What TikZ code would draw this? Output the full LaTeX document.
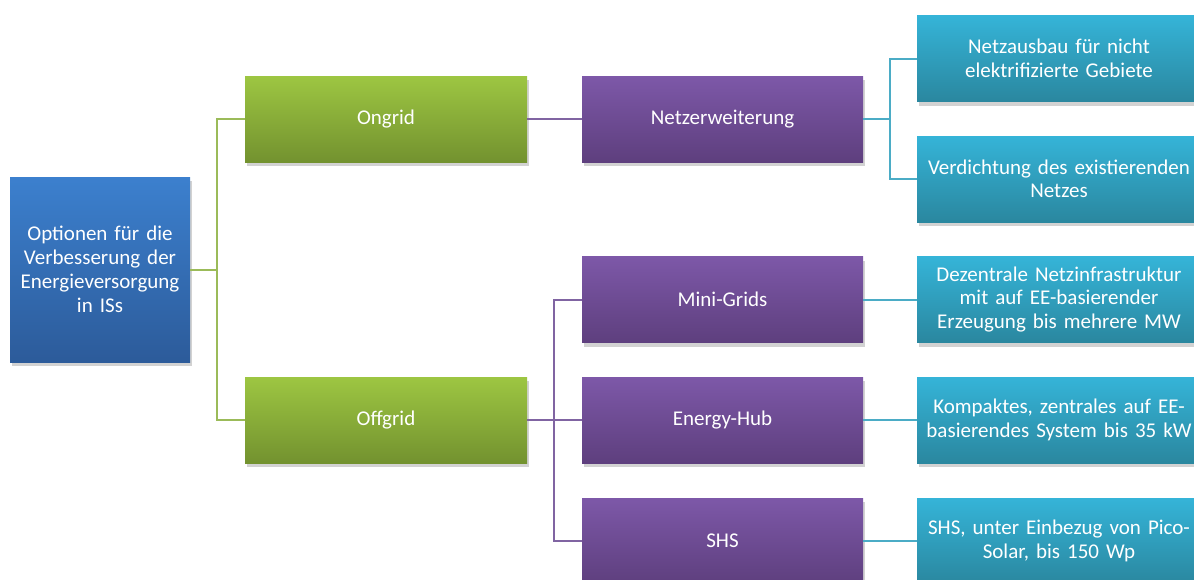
\documentclass[tikz,border=0pt]{standalone}
\usepackage{fontspec}
\setmainfont{Carlito}
\usetikzlibrary{shadows}
\definecolor{blueT}{HTML}{3C80CE}
\definecolor{blueB}{HTML}{2C5B9A}
\definecolor{greenT}{HTML}{9DC642}
\definecolor{greenB}{HTML}{73922F}
\definecolor{purpT}{HTML}{7D58A8}
\definecolor{purpB}{HTML}{5E3F7E}
\definecolor{cyanT}{HTML}{35B4D8}
\definecolor{cyanB}{HTML}{2A879F}
\definecolor{gline}{HTML}{9BBB59}
\definecolor{pline}{HTML}{8064A2}
\definecolor{cline}{HTML}{4BACC6}
\tikzset{
  box/.style={rectangle, inner sep=2pt, text=white, align=center,
    font=\fontsize{21}{23.5}\selectfont,
    drop shadow={opacity=0.35, shadow xshift=2pt, shadow yshift=-4pt}},
  rootbox/.style={box, minimum width=178pt, minimum height=185pt, text width=176pt,
    top color=blueT, bottom color=blueB},
  greenbox/.style={box, minimum width=282pt, minimum height=86pt, text width=276pt,
    top color=greenT, bottom color=greenB},
  purpbox/.style={box, minimum width=281pt, minimum height=86pt, text width=276pt,
    top color=purpT, bottom color=purpB},
  cyanbox/.style={box, minimum width=282pt, minimum height=86pt, text width=280pt,
    top color=cyanT, bottom color=cyanB},
  gconn/.style={draw=gline, line width=2pt},
  pconn/.style={draw=pline, line width=2pt},
  cconn/.style={draw=cline, line width=2pt},
}
\begin{document}
\begin{tikzpicture}[x=1pt, y=-1pt]
\useasboundingbox (0,0) rectangle (1194,579);
\fill[white] (0,0) rectangle (1194,579);
\coordinate (rj) at (217,269.5);
\coordinate (oj) at (554,420);
\coordinate (nj) at (890,119);
% nodes
\node[rootbox, font=\fontsize{21}{24}\selectfont] (root) at (100,269.5) {Optionen für die\\Verbesserung der\\Energieversorgung\\in ISs};
\node[greenbox] (on) at (386,119) {Ongrid};
\node[greenbox] (off) at (386,420) {Offgrid};
\node[purpbox] (netz) at (722.5,119) {Netzerweiterung};
\node[purpbox] (mini) at (722.5,299.5) {Mini-Grids};
\node[purpbox] (hub) at (722.5,420) {Energy-Hub};
\node[purpbox] (shs) at (722.5,541) {SHS};
\node[cyanbox] (c1) at (1059,58.5) {Netzausbau für nicht\\elektrifizierte Gebiete};
\node[cyanbox] (c2) at (1059,179) {Verdichtung des existierenden\\Netzes};
\node[cyanbox] (c3) at (1059,299.5) {Dezentrale Netzinfrastruktur\\mit auf EE-basierender\\Erzeugung bis mehrere MW};
\node[cyanbox] (c4) at (1059,420) {Kompaktes, zentrales auf EE-\\basierendes System bis 35 kW};
\node[cyanbox] (c5) at (1059,541) {SHS, unter Einbezug von Pico-\\Solar, bis 150 Wp};
% connectors
\draw[gconn] (root.east) -- (rj);
\draw[gconn] (rj) |- (on.west);
\draw[gconn] (rj) |- (off.west);
\draw[pconn] (on.east) -- (netz.west);
\draw[pconn] (off.east) -- (oj);
\draw[pconn] (oj) |- (mini.west);
\draw[pconn] (oj) |- (hub.west);
\draw[pconn] (oj) |- (shs.west);
\draw[cconn] (netz.east) -- (nj);
\draw[cconn] (nj) |- (c1.west);
\draw[cconn] (nj) |- (c2.west);
\draw[cconn] (mini.east) -- (c3.west);
\draw[cconn] (hub.east) -- (c4.west);
\draw[cconn] (shs.east) -- (c5.west);
\end{tikzpicture}
\end{document}
